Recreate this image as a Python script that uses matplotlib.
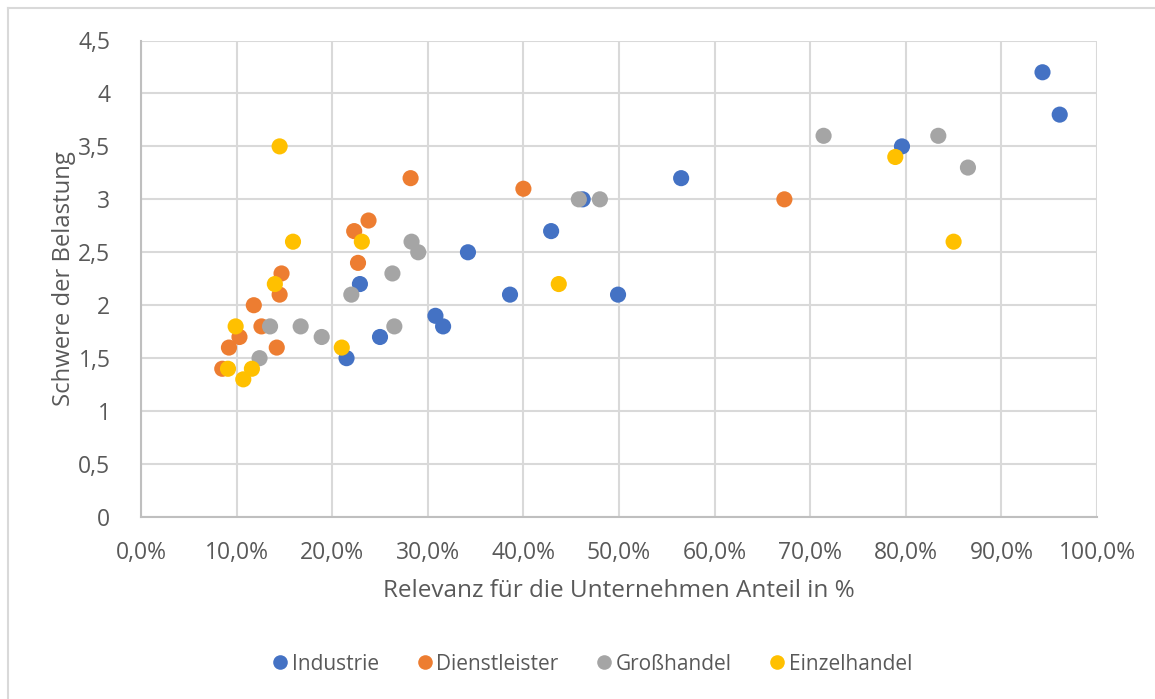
import matplotlib
matplotlib.use("Agg")
import matplotlib.pyplot as plt
from matplotlib.lines import Line2D
from matplotlib.ticker import FuncFormatter, MultipleLocator

# Relevanz (Anteil in %) und Schwere der Belastung je Branche
industrie_x = [94.3, 96.1, 79.6, 56.5, 46.2, 42.9, 34.2, 38.6, 49.9, 22.9, 30.8, 31.6, 25.0, 21.5]
industrie_y = [4.2, 3.8, 3.5, 3.2, 3.0, 2.7, 2.5, 2.1, 2.1, 2.2, 1.9, 1.8, 1.7, 1.5]

dienstleister_x = [28.2, 40.0, 67.3, 23.8, 22.3, 22.7, 14.7, 14.5, 11.8, 12.6, 10.3, 9.2, 14.2, 8.5]
dienstleister_y = [3.2, 3.1, 3.0, 2.8, 2.7, 2.4, 2.3, 2.1, 2.0, 1.8, 1.7, 1.6, 1.6, 1.4]

grosshandel_x = [71.4, 83.4, 86.5, 45.8, 48.0, 28.3, 29.0, 26.3, 22.0, 13.5, 16.7, 26.5, 18.9, 12.4]
grosshandel_y = [3.6, 3.6, 3.3, 3.0, 3.0, 2.6, 2.5, 2.3, 2.1, 1.8, 1.8, 1.8, 1.7, 1.5]

einzelhandel_x = [14.5, 78.9, 85.0, 15.9, 23.1, 14.0, 43.7, 9.9, 21.0, 9.1, 11.6, 10.7]
einzelhandel_y = [3.5, 3.4, 2.6, 2.6, 2.6, 2.2, 2.2, 1.8, 1.6, 1.4, 1.4, 1.3]

series_names = ["Industrie", "Dienstleister", "Großhandel", "Einzelhandel"]
series_colors = ["#4472C4", "#ED7D31", "#A5A5A5", "#FFC000"]

x_title = "Relevanz für die Unternehmen Anteil in %"
y_title = "Schwere der Belastung"

plt.rcParams["font.family"] = ["Open Sans", "DejaVu Sans"]
text_color = "#595959"
grid_color = "#D9D9D9"

W, H = 1155, 699
fig = plt.figure(figsize=(W / 100, H / 100), dpi=100)
fig.patch.set_facecolor("white")

# chart area border (left and top edges)
fig.add_artist(Line2D([8 / W, 8 / W], [0, 1 - 8 / H], transform=fig.transFigure,
                      color=grid_color, lw=1.5))
fig.add_artist(Line2D([8 / W, 1], [1 - 8 / H, 1 - 8 / H], transform=fig.transFigure,
                      color=grid_color, lw=1.5))

left, right, top, bottom = 141, 1097, 40.5, 517
ax = fig.add_axes([left / W, 1 - bottom / H, (right - left) / W, (bottom - top) / H])

data = [
    (industrie_x, industrie_y),
    (dienstleister_x, dienstleister_y),
    (grosshandel_x, grosshandel_y),
    (einzelhandel_x, einzelhandel_y),
]
for (xs, ys), name, col in zip(data, series_names, series_colors):
    ax.scatter(xs, ys, s=135, color=col, edgecolors="none", label=name, zorder=3)

ax.set_xlim(0, 100)
ax.set_ylim(0, 4.5)
ax.xaxis.set_major_locator(MultipleLocator(10))
ax.yaxis.set_major_locator(MultipleLocator(0.5))
ax.xaxis.set_major_formatter(FuncFormatter(lambda v, p: f"{v:.1f}%".replace(".", ",")))
ax.yaxis.set_major_formatter(FuncFormatter(
    lambda v, p: ("0" if v == 0 else (f"{v:g}".replace(".", ",")))))

ax.grid(True, color=grid_color, lw=1.5, zorder=0)
ax.set_axisbelow(True)
for side in ["top", "right"]:
    ax.spines[side].set_visible(False)
for side in ["left", "bottom"]:
    ax.spines[side].set_color("#BFBFBF")
    ax.spines[side].set_linewidth(1.5)

ax.tick_params(axis="both", length=0, colors=text_color, labelsize=16.5)
ax.tick_params(axis="x", pad=17)
ax.tick_params(axis="y", pad=22)

ax.set_xlabel(x_title, color=text_color, fontsize=17.5)
ax.set_ylabel(y_title, color=text_color, fontsize=17.2)
ax.xaxis.set_label_coords(0.5, (bottom - 591) / (bottom - top))
ax.xaxis.label.set_va("center")
ax.yaxis.set_label_coords((64 - left) / (right - left), 0.5)
ax.yaxis.label.set_va("center")

handles = [Line2D([], [], marker="o", linestyle="none", markersize=10.5,
                  markerfacecolor=c, markeredgecolor="none") for c in series_colors]
fig.legend(handles, series_names, loc="center", bbox_to_anchor=(591 / W, 1 - 664 / H),
           ncol=4, frameon=False, fontsize=15, labelcolor=text_color,
           handletextpad=0.05, columnspacing=1.7, handlelength=1.0)

fig.savefig("out.png", dpi=100, facecolor="white")
